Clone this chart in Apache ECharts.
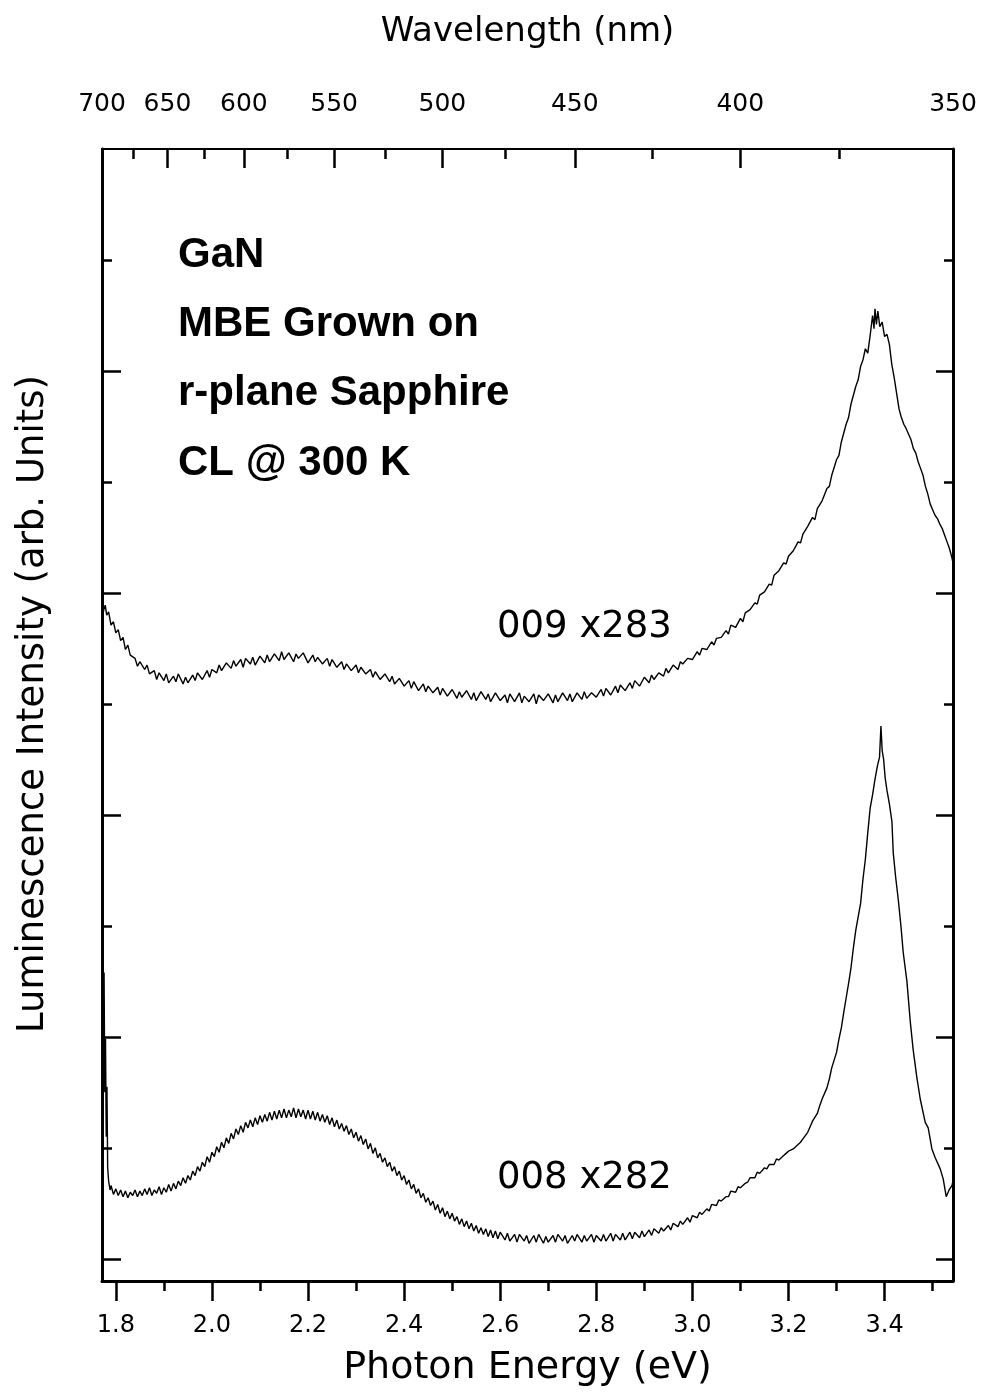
<!DOCTYPE html>
<html>
<head>
<meta charset="utf-8">
<script src="https://cdn.jsdelivr.net/npm/echarts@6/dist/echarts.min.js"></script>
<style>
  html, body { margin: 0; padding: 0; background: #fff; }
  #chart { width: 982px; height: 1399px; }
</style>
</head>
<body>
<div id="chart"></div>
<script>
// Photon-energy ticks on the bottom axis (eV)
const energyMajor = [1.8, 2.0, 2.2, 2.4, 2.6, 2.8, 3.0, 3.2, 3.4];
const energyMinor = [1.9, 2.1, 2.3, 2.5, 2.7, 2.9, 3.1, 3.3, 3.5];
// Wavelength ticks on the top axis (nm)
const wavelengthMajor = [700, 650, 600, 550, 500, 450, 400, 350];
const wavelengthMinor = [675, 625, 575, 525, 475, 425, 375];
// Intensity ticks (arb. units), no labels
const intensityMajor = [0, 2, 4, 6, 8];
const intensityMinor = [1, 3, 5, 7, 9];

// Sample 009 (x283) spectrum: [photon energy eV, intensity]
const spectrum009 = [
[1.772,5.78],[1.775,5.85],[1.778,5.89],[1.781,5.80],[1.785,5.83],[1.79,5.71],[1.795,5.74],[1.80,5.64],[1.805,5.67],[1.81,5.57],[1.815,5.60],[1.82,5.49],[1.825,5.53],[1.83,5.44],[1.84,5.41],[1.845,5.34],[1.85,5.38],[1.86,5.31],[1.865,5.35],[1.87,5.27],[1.88,5.30],[1.885,5.22],[1.89,5.28],[1.90,5.21],[1.905,5.27],[1.91,5.19],[1.92,5.25],[1.925,5.20],[1.93,5.27],[1.94,5.18],[1.945,5.24],[1.95,5.19],[1.96,5.26],[1.965,5.21],[1.97,5.28],[1.98,5.22],[1.99,5.30],[1.995,5.24],[2.00,5.31],[2.01,5.28],[2.015,5.35],[2.02,5.30],[2.03,5.37],[2.04,5.32],[2.045,5.39],[2.05,5.34],[2.06,5.40],[2.065,5.33],[2.07,5.41],[2.08,5.36],[2.085,5.42],[2.09,5.35],[2.10,5.43],[2.11,5.37],[2.115,5.44],[2.12,5.38],[2.13,5.45],[2.14,5.39],[2.145,5.47],[2.15,5.40],[2.16,5.46],[2.17,5.38],[2.175,5.45],[2.18,5.41],[2.19,5.46],[2.20,5.37],[2.21,5.44],[2.215,5.38],[2.22,5.42],[2.23,5.36],[2.24,5.41],[2.245,5.34],[2.25,5.40],[2.26,5.33],[2.27,5.38],[2.275,5.31],[2.28,5.36],[2.29,5.30],[2.30,5.35],[2.305,5.28],[2.31,5.33],[2.32,5.27],[2.33,5.31],[2.335,5.24],[2.34,5.29],[2.35,5.22],[2.36,5.27],[2.37,5.20],[2.375,5.25],[2.38,5.18],[2.39,5.23],[2.40,5.16],[2.41,5.21],[2.415,5.14],[2.42,5.20],[2.43,5.12],[2.44,5.18],[2.445,5.11],[2.45,5.16],[2.46,5.10],[2.47,5.15],[2.475,5.08],[2.48,5.14],[2.49,5.07],[2.50,5.13],[2.51,5.05],[2.515,5.11],[2.52,5.06],[2.53,5.12],[2.54,5.04],[2.545,5.10],[2.55,5.03],[2.56,5.11],[2.57,5.04],[2.575,5.09],[2.58,5.02],[2.59,5.10],[2.60,5.03],[2.61,5.08],[2.615,5.01],[2.62,5.09],[2.63,5.02],[2.64,5.10],[2.645,5.01],[2.65,5.07],[2.66,5.02],[2.67,5.09],[2.675,5.00],[2.68,5.08],[2.69,5.03],[2.70,5.09],[2.71,5.01],[2.715,5.08],[2.72,5.02],[2.73,5.10],[2.74,5.03],[2.745,5.09],[2.75,5.02],[2.76,5.10],[2.77,5.04],[2.775,5.11],[2.78,5.05],[2.79,5.10],[2.80,5.06],[2.81,5.13],[2.815,5.07],[2.82,5.14],[2.83,5.08],[2.84,5.16],[2.845,5.10],[2.85,5.17],[2.86,5.12],[2.87,5.19],[2.875,5.14],[2.88,5.21],[2.89,5.16],[2.90,5.24],[2.91,5.19],[2.915,5.26],[2.92,5.22],[2.93,5.28],[2.94,5.25],[2.945,5.32],[2.95,5.28],[2.96,5.35],[2.97,5.31],[2.975,5.38],[2.98,5.36],[2.99,5.41],[3.00,5.40],[3.01,5.47],[3.015,5.44],[3.02,5.50],[3.03,5.49],[3.04,5.56],[3.045,5.53],[3.05,5.59],[3.06,5.60],[3.07,5.66],[3.075,5.63],[3.08,5.71],[3.09,5.69],[3.10,5.77],[3.105,5.74],[3.11,5.82],[3.12,5.85],[3.13,5.91],[3.135,5.90],[3.14,5.98],[3.15,6.01],[3.16,6.08],[3.165,6.07],[3.17,6.16],[3.18,6.20],[3.19,6.27],[3.195,6.26],[3.20,6.33],[3.21,6.38],[3.22,6.46],[3.225,6.45],[3.23,6.53],[3.24,6.60],[3.25,6.68],[3.255,6.66],[3.26,6.76],[3.27,6.83],[3.28,6.94],[3.285,6.96],[3.29,7.06],[3.30,7.20],[3.305,7.24],[3.31,7.36],[3.32,7.52],[3.325,7.58],[3.33,7.70],[3.34,7.86],[3.345,7.92],[3.35,8.04],[3.355,8.10],[3.36,8.20],[3.365,8.16],[3.37,8.32],[3.375,8.50],[3.378,8.38],[3.38,8.56],[3.383,8.42],[3.386,8.54],[3.39,8.40],[3.395,8.44],[3.40,8.31],[3.405,8.33],[3.41,8.24],[3.415,8.06],[3.42,7.94],[3.425,7.80],[3.43,7.66],[3.435,7.58],[3.44,7.52],[3.445,7.48],[3.45,7.43],[3.455,7.38],[3.46,7.30],[3.465,7.26],[3.47,7.18],[3.475,7.12],[3.48,7.06],[3.485,6.96],[3.49,6.89],[3.495,6.80],[3.50,6.75],[3.505,6.70],[3.51,6.67],[3.515,6.62],[3.52,6.58],[3.525,6.52],[3.53,6.46],[3.535,6.40],[3.54,6.32],[3.5424,6.27]
];

// Sample 008 (x282) spectrum: [photon energy eV, intensity]
const spectrum008 = [
[1.7712,1.15],[1.7735,2.10],[1.7755,2.58],[1.777,1.50],[1.7785,1.98],[1.780,1.10],[1.7815,1.55],[1.783,0.82],[1.785,0.70],[1.788,0.62],[1.79,0.66],[1.795,0.58],[1.80,0.63],[1.805,0.57],[1.81,0.62],[1.815,0.56],[1.82,0.61],[1.825,0.55],[1.83,0.60],[1.835,0.57],[1.84,0.62],[1.845,0.56],[1.85,0.61],[1.855,0.57],[1.86,0.63],[1.865,0.58],[1.87,0.64],[1.875,0.57],[1.88,0.62],[1.885,0.59],[1.89,0.65],[1.895,0.58],[1.90,0.64],[1.905,0.60],[1.91,0.67],[1.915,0.61],[1.92,0.68],[1.925,0.63],[1.93,0.70],[1.935,0.66],[1.94,0.73],[1.945,0.68],[1.95,0.75],[1.955,0.71],[1.96,0.79],[1.965,0.75],[1.97,0.83],[1.975,0.79],[1.98,0.87],[1.985,0.83],[1.99,0.92],[1.995,0.87],[2.00,0.96],[2.005,0.92],[2.01,1.01],[2.015,0.96],[2.02,1.05],[2.025,1.00],[2.03,1.09],[2.035,1.04],[2.04,1.13],[2.045,1.08],[2.05,1.17],[2.055,1.12],[2.06,1.20],[2.065,1.14],[2.07,1.23],[2.075,1.18],[2.08,1.25],[2.085,1.19],[2.09,1.27],[2.095,1.21],[2.10,1.29],[2.105,1.23],[2.11,1.30],[2.115,1.24],[2.12,1.32],[2.125,1.25],[2.13,1.33],[2.135,1.26],[2.14,1.34],[2.145,1.27],[2.15,1.35],[2.155,1.27],[2.16,1.34],[2.165,1.28],[2.17,1.36],[2.175,1.27],[2.18,1.35],[2.185,1.28],[2.19,1.34],[2.195,1.26],[2.20,1.34],[2.205,1.26],[2.21,1.33],[2.215,1.25],[2.22,1.32],[2.225,1.24],[2.23,1.30],[2.235,1.23],[2.24,1.29],[2.245,1.21],[2.25,1.27],[2.255,1.19],[2.26,1.25],[2.265,1.17],[2.27,1.22],[2.275,1.15],[2.28,1.20],[2.285,1.12],[2.29,1.17],[2.295,1.09],[2.30,1.14],[2.305,1.06],[2.31,1.11],[2.315,1.03],[2.32,1.08],[2.325,0.99],[2.33,1.04],[2.335,0.95],[2.34,1.00],[2.345,0.91],[2.35,0.95],[2.355,0.87],[2.36,0.91],[2.365,0.83],[2.37,0.87],[2.375,0.79],[2.38,0.83],[2.385,0.75],[2.39,0.79],[2.395,0.71],[2.40,0.75],[2.405,0.67],[2.41,0.71],[2.415,0.63],[2.42,0.67],[2.425,0.59],[2.43,0.63],[2.435,0.55],[2.44,0.59],[2.445,0.51],[2.45,0.55],[2.455,0.48],[2.46,0.52],[2.465,0.44],[2.47,0.49],[2.475,0.41],[2.48,0.46],[2.485,0.38],[2.49,0.43],[2.495,0.36],[2.50,0.41],[2.505,0.34],[2.51,0.38],[2.515,0.31],[2.52,0.36],[2.525,0.29],[2.53,0.34],[2.535,0.27],[2.54,0.32],[2.545,0.25],[2.55,0.30],[2.555,0.23],[2.56,0.28],[2.565,0.22],[2.57,0.27],[2.575,0.20],[2.58,0.26],[2.585,0.19],[2.59,0.25],[2.595,0.18],[2.60,0.24],[2.61,0.17],[2.615,0.23],[2.62,0.16],[2.63,0.22],[2.635,0.15],[2.64,0.22],[2.65,0.16],[2.655,0.21],[2.66,0.14],[2.67,0.21],[2.675,0.15],[2.68,0.22],[2.69,0.14],[2.695,0.20],[2.70,0.15],[2.71,0.21],[2.715,0.15],[2.72,0.22],[2.73,0.16],[2.735,0.21],[2.74,0.14],[2.75,0.21],[2.755,0.16],[2.76,0.22],[2.77,0.15],[2.775,0.21],[2.78,0.16],[2.79,0.22],[2.795,0.15],[2.80,0.21],[2.81,0.16],[2.815,0.22],[2.82,0.16],[2.83,0.23],[2.835,0.16],[2.84,0.22],[2.85,0.17],[2.855,0.23],[2.86,0.17],[2.87,0.24],[2.875,0.18],[2.88,0.24],[2.89,0.19],[2.895,0.25],[2.90,0.20],[2.91,0.26],[2.915,0.21],[2.92,0.27],[2.93,0.23],[2.935,0.28],[2.94,0.25],[2.95,0.30],[2.955,0.26],[2.96,0.32],[2.97,0.29],[2.975,0.34],[2.98,0.31],[2.99,0.37],[2.995,0.33],[3.00,0.39],[3.01,0.37],[3.015,0.42],[3.02,0.40],[3.03,0.45],[3.035,0.43],[3.04,0.49],[3.05,0.48],[3.055,0.53],[3.06,0.52],[3.07,0.56],[3.075,0.56],[3.08,0.61],[3.09,0.60],[3.095,0.65],[3.10,0.64],[3.11,0.68],[3.115,0.69],[3.12,0.73],[3.13,0.73],[3.135,0.78],[3.14,0.77],[3.15,0.82],[3.155,0.81],[3.16,0.85],[3.17,0.85],[3.175,0.90],[3.18,0.89],[3.19,0.93],[3.195,0.95],[3.20,0.97],[3.21,0.99],[3.215,1.01],[3.22,1.03],[3.225,1.05],[3.23,1.08],[3.24,1.14],[3.245,1.19],[3.25,1.24],[3.26,1.31],[3.265,1.38],[3.27,1.44],[3.28,1.54],[3.285,1.62],[3.29,1.72],[3.30,1.86],[3.305,1.98],[3.31,2.08],[3.315,2.22],[3.32,2.35],[3.325,2.48],[3.33,2.62],[3.335,2.80],[3.34,2.96],[3.345,3.08],[3.35,3.20],[3.355,3.42],[3.36,3.60],[3.365,3.84],[3.37,4.06],[3.375,4.18],[3.38,4.32],[3.385,4.44],[3.3895,4.52],[3.3924,4.80],[3.395,4.58],[3.398,4.50],[3.4013,4.33],[3.405,4.22],[3.41,4.10],[3.4153,3.94],[3.418,3.66],[3.423,3.44],[3.4284,3.24],[3.434,3.00],[3.4388,2.76],[3.4465,2.50],[3.4534,2.14],[3.4596,1.88],[3.467,1.64],[3.4742,1.44],[3.4846,1.23],[3.4908,1.18],[3.4985,0.99],[3.5054,0.91],[3.5158,0.81],[3.522,0.72],[3.5283,0.56],[3.5342,0.62],[3.5402,0.66],[3.5424,0.70]
];

const annotationLines = ['GaN', 'MBE Grown on', 'r-plane Sapphire', 'CL @ 300 K'];
const seriesTags = ['009 x283', '008 x282'];

// hc = 1239.84 eV·nm: the top axis shares the energy scale, labelled in nm
const HC = 1239.84;
const toEnergy = nm => HC / nm;
const eMin = toEnergy(700);
const eMax = toEnergy(350);
const yMin = -0.2, yMax = 10;

const FONT = '"DejaVu Sans", sans-serif';

// Five grids over the same rectangle: grids 0-3 each carry one x and one y axis
// (frame, long and short ticks on every side); grid 4 holds the spectra.
function plotRect() {
  return { left: 102, top: 149, width: 851, height: 1132, containLabel: false };
}

const chart = echarts.init(document.getElementById('chart'), null, { renderer: 'canvas' });

chart.setOption({
  backgroundColor: '#fff',
  animation: false,
  grid: [plotRect(), plotRect(), plotRect(), plotRect(), plotRect()],
  xAxis: [
    {
      type: 'value', gridIndex: 0, position: 'bottom', min: eMin, max: eMax,
      axisLine: { show: true, onZero: false, lineStyle: { color: '#000', width: 3 } },
      axisTick: { show: true, inside: false, length: 20, customValues: energyMajor, lineStyle: { color: '#000', width: 2.5 } },
      axisLabel: { show: true, customValues: energyMajor, margin: 33, color: '#000', fontSize: 24, fontFamily: FONT,
        formatter: v => v.toFixed(1) },
      splitLine: { show: false },
      name: 'Photon Energy (eV)', nameLocation: 'middle', nameGap: 68,
      nameTextStyle: { color: '#000', fontSize: 38, fontFamily: FONT }
    },
    {
      type: 'value', gridIndex: 1, position: 'bottom', min: eMin, max: eMax,
      axisLine: { show: false, onZero: false },
      axisTick: { show: true, inside: false, length: 10, customValues: energyMinor, lineStyle: { color: '#000', width: 2.5 } },
      axisLabel: { show: false }, splitLine: { show: false }
    },
    {
      type: 'value', gridIndex: 2, position: 'top', min: eMin, max: eMax,
      axisLine: { show: true, onZero: false, lineStyle: { color: '#000', width: 2 } },
      axisTick: { show: true, inside: true, length: 19, customValues: wavelengthMajor.map(toEnergy), lineStyle: { color: '#000', width: 2.5 } },
      axisLabel: { show: true, customValues: wavelengthMajor.map(toEnergy), margin: 32, color: '#000', fontSize: 25, fontFamily: FONT,
        formatter: v => String(Math.round(HC / v)) },
      splitLine: { show: false },
      name: 'Wavelength (nm)', nameLocation: 'middle', nameGap: 100,
      nameTextStyle: { color: '#000', fontSize: 34, fontFamily: FONT }
    },
    {
      type: 'value', gridIndex: 3, position: 'top', min: eMin, max: eMax,
      axisLine: { show: false, onZero: false },
      axisTick: { show: true, inside: true, length: 10, customValues: wavelengthMinor.map(toEnergy), lineStyle: { color: '#000', width: 2.5 } },
      axisLabel: { show: false }, splitLine: { show: false }
    },
    {
      type: 'value', gridIndex: 4, position: 'bottom', min: eMin, max: eMax, show: false,
      axisLine: { show: false, onZero: false }, axisTick: { show: false }, axisLabel: { show: false }, splitLine: { show: false }
    }
  ],
  yAxis: [
    {
      type: 'value', gridIndex: 0, position: 'left', min: yMin, max: yMax,
      axisLine: { show: true, onZero: false, lineStyle: { color: '#000', width: 3 } },
      axisTick: { show: true, inside: true, length: 19, customValues: intensityMajor, lineStyle: { color: '#000', width: 2.5 } },
      axisLabel: { show: false }, splitLine: { show: false }
    },
    {
      type: 'value', gridIndex: 1, position: 'left', min: yMin, max: yMax,
      axisLine: { show: false, onZero: false },
      axisTick: { show: true, inside: true, length: 10, customValues: intensityMinor, lineStyle: { color: '#000', width: 2.5 } },
      axisLabel: { show: false }, splitLine: { show: false }
    },
    {
      type: 'value', gridIndex: 2, position: 'right', min: yMin, max: yMax,
      axisLine: { show: true, onZero: false, lineStyle: { color: '#000', width: 3 } },
      axisTick: { show: true, inside: true, length: 17, customValues: intensityMajor, lineStyle: { color: '#000', width: 2.5 } },
      axisLabel: { show: false }, splitLine: { show: false }
    },
    {
      type: 'value', gridIndex: 3, position: 'right', min: yMin, max: yMax,
      axisLine: { show: false, onZero: false },
      axisTick: { show: true, inside: true, length: 9, customValues: intensityMinor, lineStyle: { color: '#000', width: 2.5 } },
      axisLabel: { show: false }, splitLine: { show: false }
    },
    {
      type: 'value', gridIndex: 4, position: 'left', min: yMin, max: yMax, show: false,
      axisLine: { show: false, onZero: false }, axisTick: { show: false }, axisLabel: { show: false }, splitLine: { show: false }
    }
  ],
  series: [
    {
      name: seriesTags[0], type: 'line', xAxisIndex: 4, yAxisIndex: 4,
      data: spectrum009, showSymbol: false, symbol: 'none', smooth: false,
      lineStyle: { color: '#000', width: 1.4 }
    },
    {
      name: seriesTags[1], type: 'line', xAxisIndex: 4, yAxisIndex: 4,
      data: spectrum008, showSymbol: false, symbol: 'none', smooth: false,
      lineStyle: { color: '#000', width: 1.4 }
    }
  ],
  graphic: [
    {
      type: 'text', x: 33, y: 704, rotation: Math.PI / 2,
      style: { text: 'Luminescence Intensity (arb. Units)', font: '37px ' + FONT, fill: '#000',
        textAlign: 'center', textVerticalAlign: 'middle' }
    },
    ...annotationLines.map((t, i) => ({
      type: 'text', x: 178, y: [255, 324, 393, 463][i],
      style: { text: t, font: 'bold 42px "Liberation Sans", Arial, sans-serif', fill: '#000',
        textAlign: 'left', textVerticalAlign: 'middle' }
    })),
    ...seriesTags.map((t, i) => ({
      type: 'text', x: 497, y: [627, 1178][i],
      style: { text: t, font: '37px ' + FONT, fill: '#000', textAlign: 'left', textVerticalAlign: 'middle' }
    }))
  ]
});
</script>
</body>
</html>
